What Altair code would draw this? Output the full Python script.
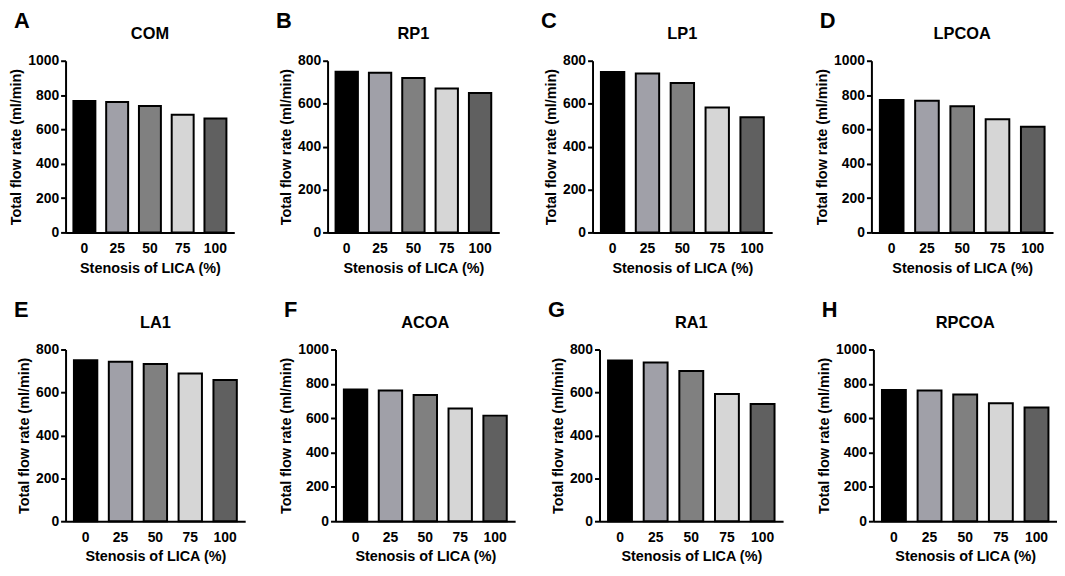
import altair as alt
import pandas as pd

STENOSIS = ["0", "25", "50", "75", "100"]
COLORS = ["#000000", "#a0a0a8", "#808080", "#d6d6d6", "#606060"]

COM = [766, 760, 736, 686, 663]
RP1 = [749, 744, 720, 671, 650]
LP1 = [748, 740, 696, 582, 537]
LPCOA = [771, 767, 735, 659, 615]
LA1 = [750, 743, 732, 688, 658]
ACOA = [767, 762, 735, 657, 615]
RA1 = [749, 740, 700, 593, 546]
RPCOA = [765, 761, 738, 687, 662]

PANELS = [
    ("A", "COM", COM, 1000, 170),
    ("B", "RP1", RP1, 800, 173),
    ("C", "LP1", LP1, 800, 181),
    ("D", "LPCOA", LPCOA, 1000, 183),
    ("E", "LA1", LA1, 800, 181),
    ("F", "ACOA", ACOA, 1000, 181),
    ("G", "RA1", RA1, 800, 185),
    ("H", "RPCOA", RPCOA, 1000, 185),
]

FONT = "Liberation Sans"
H = 173


def panel(letter, name, vals, ymax, w):
    df = pd.DataFrame({"stenosis": STENOSIS, "flow": vals})
    bars = alt.Chart(df).mark_bar(stroke="black", strokeWidth=2).encode(
        x=alt.X(
            "stenosis:N",
            sort=STENOSIS,
            scale=alt.Scale(paddingInner=0.33, paddingOuter=0.24),
            axis=alt.Axis(title="Stenosis of LICA (%)", labelAngle=0, ticks=False,
                          labelPadding=9, titlePadding=6),
        ),
        y=alt.Y(
            "flow:Q",
            scale=alt.Scale(domain=[0, ymax], nice=False),
            axis=alt.Axis(title="Total flow rate (ml/min)", values=list(range(0, ymax + 1, 200)),
                          format="d", labelPadding=2, titlePadding=4),
        ),
        color=alt.Color("stenosis:N", sort=STENOSIS,
                        scale=alt.Scale(domain=STENOSIS, range=COLORS), legend=None),
    )
    info = alt.Data(values=[{"letter": letter, "name": name}])
    lab = alt.Chart(info).mark_text(
        font=FONT, fontSize=22, fontWeight="bold", align="left", baseline="middle", color="black"
    ).encode(text="letter:N", x=alt.value(-52), y=alt.value(-40))
    ttl = alt.Chart(info).mark_text(
        font=FONT, fontSize=16.5, fontWeight="bold", align="center", baseline="middle", color="black"
    ).encode(text="name:N", x=alt.value(w / 2), y=alt.value(-27))
    return alt.layer(bars, lab, ttl).properties(width=w, height=H)


charts = [panel(*p) for p in PANELS]
row1 = alt.hconcat(*charts[:4], spacing=42)
row2 = alt.hconcat(*charts[4:], spacing=33)
chart = alt.vconcat(row1, row2, spacing=24).properties(
    padding={"top": 0, "left": 0, "right": 0, "bottom": 0}
).configure_view(stroke=None).configure_axis(
    grid=False,
    domainColor="black", domainWidth=2,
    tickColor="black", tickWidth=2, tickSize=5,
    labelFont=FONT, labelFontSize=14, labelFontWeight="bold", labelColor="black",
    titleFont=FONT, titleFontSize=14.5, titleFontWeight="bold", titleColor="black",
)

chart.save("out.html", embed_options={"renderer": "svg", "actions": False})
